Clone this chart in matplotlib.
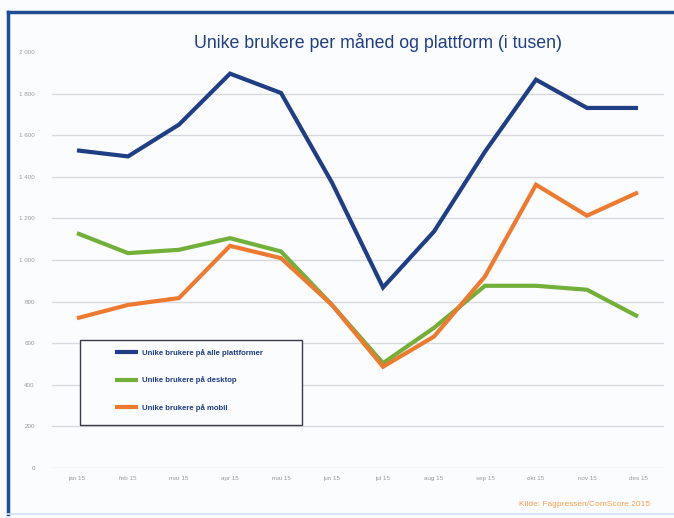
import matplotlib
matplotlib.use("Agg")
import matplotlib.pyplot as plt
from matplotlib.ticker import FuncFormatter
from matplotlib.patches import Rectangle
from matplotlib.lines import Line2D

months = ["jan 15", "feb 15", "mar 15", "apr 15", "mai 15", "jun 15",
          "jul 15", "aug 15", "sep 15", "okt 15", "nov 15", "des 15"]
alle = [1527, 1498, 1651, 1896, 1803, 1372, 868, 1137, 1521, 1867, 1731, 1731]
desktop = [1129, 1033, 1049, 1105, 1041, 784, 504, 674, 876, 876, 857, 728]
mobil = [720, 784, 817, 1068, 1009, 784, 487, 632, 921, 1362, 1213, 1325]
series_names = ["Unike brukere på alle plattformer",
                "Unike brukere på desktop",
                "Unike brukere på mobil"]
colors = ["#1f3e85", "#72b03a", "#ee7a30"]
yticks = list(range(0, 2001, 200))

plt.rcParams['font.family'] = ['Liberation Sans', 'DejaVu Sans']

W, H = 674, 518
fig = plt.figure(figsize=(6.74, 5.18), dpi=100)
fig.patch.set_facecolor("#fbfcfd")

# outer frame
fig.add_artist(Line2D([7.5/W, 1.0], [1-11.5/H, 1-11.5/H], color="#1f4e96", lw=2.5))
fig.add_artist(Line2D([7.5/W, 7.5/W], [1-11.5/H, 1-514/H], color="#1f4e96", lw=2.5))
fig.add_artist(Line2D([7/W, 1.0], [1-514/H, 1-514/H], color="#cfe0f2", lw=1.2))

ax = fig.add_axes([51.5/W, 1-468/H, (663.5-51.5)/W, (468-52)/H])
ax.set_facecolor("none")
x = list(range(len(months)))
handles = []
for vals, c, name in zip([alle, desktop, mobil], colors, series_names):
    h, = ax.plot(x, vals, color=c, lw=3, solid_capstyle="butt", solid_joinstyle="miter", label=name)
    handles.append(h)

ax.set_xlim(-0.5, len(months) - 0.5)
ax.set_ylim(0, 2000)
ax.set_yticks(yticks)
ax.yaxis.set_major_formatter(FuncFormatter(lambda v, p: f"{int(v):,}".replace(",", " ")))
ax.set_xticks(x)
ax.set_xticklabels(months)
ax.tick_params(axis="both", length=0, labelsize=4.5, labelcolor="#9a9a9a")
ax.tick_params(axis="y", pad=12)
ax.tick_params(axis="x", pad=6)
for s in ax.spines.values():
    s.set_visible(False)
ax.grid(axis="y", color="#d6d9de", lw=1)
ax.yaxis.get_gridlines()[-1].set_visible(False)
ax.set_axisbelow(True)

fig.text(378/W, 1-42/H, "Unike brukere per måned og plattform (i tusen)",
         ha="center", va="center", fontsize=12.8, color="#1f3e85")

# legend box
fig.add_artist(Rectangle((80/W, 1-425/H), (302-80)/W, (425-340)/H,
                         transform=fig.transFigure, fill=True, facecolor="#fbfcfd",
                         edgecolor="#3a3a4a", lw=1.0, zorder=5))
leg = fig.legend(handles=handles, labels=series_names, loc="upper left",
                 bbox_to_anchor=(111/W, 1-345/H), frameon=False, fontsize=5.6,
                 handlelength=3.0, labelspacing=2.55, borderpad=0.5,
                 handletextpad=0.5, borderaxespad=0)
leg.set_zorder(6)
for t in leg.get_texts():
    t.set_color("#1f3e85")
    t.set_fontweight("bold")

fig.text(650/W, 1-505/H, "Kilde: Fagpressen/ComScore 2015", ha="right", va="center",
         fontsize=6, color="#f0a050")

fig.savefig("out.png", dpi=100, facecolor=fig.get_facecolor())
